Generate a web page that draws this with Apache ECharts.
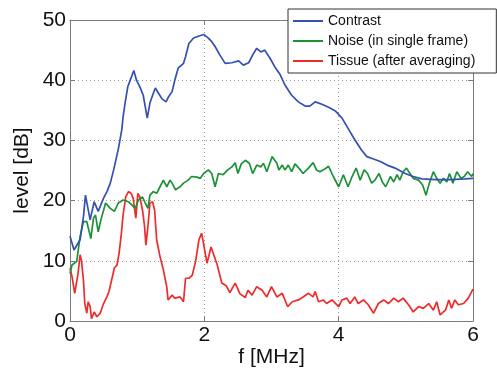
<!DOCTYPE html>
<html>
<head>
<meta charset="utf-8">
<script src="https://cdn.jsdelivr.net/npm/echarts@6/dist/echarts.min.js"></script>
<style>
  html, body { margin: 0; padding: 0; background: #fff; }
  #chart { width: 497px; height: 370px; }
</style>
</head>
<body>
<div id="chart"></div>
<script>
// frequency axis ticks [MHz] and level ticks [dB]
const freqTicks = [0, 2, 4, 6];
const levelTicks = [0, 10, 20, 30, 40, 50];

// Contrast curve: [f MHz, level dB]
const contrast = [
  [0.00, 14.1], [0.06, 11.8], [0.15, 13.5], [0.20, 17.3], [0.23, 20.9], [0.30, 16.8],
  [0.36, 19.8], [0.42, 18.2], [0.50, 20.4], [0.55, 21.5], [0.60, 22.9], [0.65, 25.1],
  [0.72, 28.6], [0.77, 31.7], [0.79, 33.9], [0.82, 36.2], [0.86, 38.9], [0.89, 39.8],
  [0.95, 41.6], [0.99, 40.0], [1.04, 38.9], [1.09, 37.5], [1.12, 35.6], [1.15, 33.7],
  [1.19, 36.2], [1.23, 37.5], [1.27, 38.7], [1.32, 37.8], [1.37, 36.9], [1.43, 36.4],
  [1.47, 37.3], [1.52, 38.1], [1.56, 40.0], [1.61, 42.0], [1.69, 42.8], [1.72, 43.9],
  [1.77, 46.1], [1.84, 47.0], [1.91, 47.3], [1.99, 47.6], [2.06, 47.0], [2.11, 46.4],
  [2.16, 45.6], [2.23, 44.2], [2.31, 42.8], [2.41, 42.9], [2.51, 43.2], [2.58, 42.5],
  [2.66, 42.9], [2.72, 44.2], [2.78, 45.3], [2.84, 44.7], [2.90, 45.0], [2.98, 43.6],
  [3.05, 42.2], [3.13, 40.9], [3.20, 39.2], [3.30, 37.5], [3.40, 36.4], [3.50, 35.7],
  [3.57, 35.7], [3.65, 36.4], [3.75, 36.0], [3.85, 35.5], [3.95, 34.9], [4.05, 33.7],
  [4.14, 32.0], [4.24, 30.1], [4.34, 28.4], [4.42, 27.3], [4.52, 26.9], [4.62, 26.5],
  [4.72, 25.9], [4.84, 25.4], [4.99, 24.5], [5.11, 24.0], [5.24, 23.6], [5.44, 23.5],
  [5.68, 23.5], [5.88, 23.6], [6.00, 23.7]
];

// Noise (in single frame)
const noise = [
  [0.00, 7.9], [0.03, 9.3], [0.10, 9.9], [0.15, 14.0], [0.20, 16.5], [0.25, 16.5],
  [0.28, 15.1], [0.31, 13.7], [0.35, 17.1], [0.38, 17.6], [0.42, 14.8], [0.46, 16.8],
  [0.50, 18.4], [0.53, 19.6], [0.60, 18.7], [0.66, 18.2], [0.72, 19.6], [0.79, 20.1],
  [0.87, 19.8], [0.92, 19.3], [0.97, 18.7], [1.02, 20.1], [1.08, 20.6], [1.12, 19.6],
  [1.16, 18.7], [1.19, 20.9], [1.24, 21.5], [1.29, 21.2], [1.34, 22.3], [1.39, 23.4],
  [1.44, 22.3], [1.49, 23.4], [1.52, 22.9], [1.57, 21.8], [1.64, 22.3], [1.69, 22.9],
  [1.76, 23.4], [1.81, 24.0], [1.89, 23.9], [1.94, 23.7], [1.99, 24.5], [2.06, 25.1],
  [2.11, 24.5], [2.16, 22.3], [2.21, 24.5], [2.28, 24.3], [2.35, 25.1], [2.41, 25.6],
  [2.46, 26.3], [2.50, 24.5], [2.55, 26.1], [2.61, 26.7], [2.67, 26.2], [2.72, 24.5],
  [2.78, 25.9], [2.84, 25.6], [2.88, 26.2], [2.93, 24.8], [3.01, 27.3], [3.08, 26.2],
  [3.11, 25.1], [3.16, 25.9], [3.20, 25.1], [3.25, 25.9], [3.30, 24.8], [3.35, 26.1],
  [3.43, 25.1], [3.47, 24.5], [3.55, 25.4], [3.62, 26.3], [3.67, 25.1], [3.72, 24.8],
  [3.80, 25.3], [3.85, 25.7], [3.92, 24.0], [4.00, 22.3], [4.07, 24.3], [4.14, 22.3],
  [4.20, 24.0], [4.26, 25.4], [4.32, 23.4], [4.38, 25.1], [4.43, 24.5], [4.49, 22.9],
  [4.54, 23.4], [4.60, 24.5], [4.65, 23.1], [4.70, 22.3], [4.77, 24.0], [4.82, 23.1],
  [4.87, 24.3], [4.91, 23.4], [4.96, 24.8], [5.01, 25.4], [5.06, 24.5], [5.11, 23.7],
  [5.19, 23.4], [5.25, 22.6], [5.30, 20.9], [5.35, 22.9], [5.41, 24.8], [5.46, 23.7],
  [5.51, 22.9], [5.56, 23.7], [5.61, 23.1], [5.65, 24.5], [5.70, 22.9], [5.76, 24.8],
  [5.82, 23.7], [5.87, 24.0], [5.92, 24.8], [5.98, 24.0], [6.00, 24.5]
];

// Tissue (after averaging)
const tissue = [
  [0.00, 8.8], [0.03, 7.4], [0.07, 4.6], [0.12, 7.9], [0.15, 11.0], [0.17, 10.1],
  [0.20, 6.8], [0.22, 2.9], [0.25, 1.3], [0.27, 3.2], [0.30, 2.4], [0.32, 0.4],
  [0.36, 1.5], [0.40, 0.7], [0.45, 1.3], [0.50, 2.9], [0.55, 4.0], [0.58, 4.9],
  [0.62, 6.8], [0.66, 8.8], [0.70, 9.3], [0.73, 11.2], [0.76, 14.0], [0.79, 17.6],
  [0.83, 20.6], [0.87, 21.5], [0.91, 21.2], [0.94, 20.4], [0.98, 17.1], [1.01, 21.2],
  [1.04, 20.6], [1.08, 18.4], [1.11, 15.7], [1.13, 12.6], [1.16, 15.7], [1.19, 19.6],
  [1.23, 19.8], [1.26, 18.4], [1.29, 13.5], [1.34, 10.7], [1.39, 8.5], [1.44, 5.7],
  [1.46, 3.5], [1.52, 4.3], [1.56, 3.8], [1.64, 4.0], [1.69, 3.2], [1.72, 7.1],
  [1.77, 7.1], [1.82, 7.6], [1.87, 9.9], [1.92, 13.5], [1.96, 14.6], [2.04, 9.6],
  [2.10, 12.3], [2.19, 9.4], [2.26, 6.3], [2.33, 5.8], [2.38, 4.7], [2.46, 6.3],
  [2.53, 4.5], [2.61, 3.9], [2.65, 5.1], [2.71, 4.3], [2.78, 5.7], [2.86, 5.1],
  [2.93, 4.0], [3.00, 5.7], [3.08, 4.0], [3.16, 4.6], [3.24, 2.4], [3.31, 3.2],
  [3.40, 3.5], [3.47, 4.0], [3.55, 4.6], [3.62, 4.0], [3.65, 4.9], [3.70, 3.2],
  [3.77, 3.5], [3.82, 2.9], [3.90, 3.5], [3.92, 3.8], [4.00, 2.4], [4.05, 3.5],
  [4.12, 3.8], [4.17, 2.9], [4.24, 4.0], [4.29, 2.9], [4.37, 3.5], [4.44, 2.7],
  [4.52, 1.3], [4.59, 2.9], [4.67, 3.5], [4.74, 2.9], [4.82, 3.8], [4.89, 3.2],
  [4.96, 3.8], [5.04, 2.7], [5.11, 1.5], [5.19, 2.4], [5.26, 2.1], [5.34, 2.9],
  [5.41, 1.8], [5.46, 3.2], [5.51, 1.0], [5.59, 1.8], [5.64, 3.5], [5.68, 2.1],
  [5.73, 3.5], [5.78, 2.7], [5.86, 2.9], [5.93, 3.8], [6.00, 5.3]
];

const seriesNames = ['Contrast', 'Noise (in single frame)', 'Tissue (after averaging)'];
const seriesColors = ['#3450b2', '#1d9137', '#ee2b2b'];

const font = '"Liberation Sans", Arial, Helvetica, sans-serif';
const axisColor = '#7a7a7a';
const gridLine = { show: true, lineStyle: { color: '#9a9a9a', type: [1, 3], width: 1 } };

const chart = echarts.init(document.getElementById('chart'), null, { renderer: 'canvas' });

// mirror axes (top/right) only draw the box edge + inward ticks
const mirror = (extra) => Object.assign({
  type: 'value',
  axisLine: { show: true, onZero: false, lineStyle: { color: axisColor, width: 1 } },
  axisTick: { show: true, inside: true, length: 5, lineStyle: { color: axisColor } },
  axisLabel: { show: false },
  splitLine: { show: false }
}, extra);

const option = {
  animation: false,
  backgroundColor: '#fff',
  grid: { left: 70, right: 24, top: 20, bottom: 49, containLabel: false, outerBoundsMode: 'none' },
  legend: {
    orient: 'vertical',
    left: 288,
    top: 9,
    data: seriesNames,
    icon: 'rect',
    itemWidth: 30,
    itemHeight: 2,
    itemGap: 6,
    padding: [5, 21, 5, 5],
    backgroundColor: '#fff',
    borderColor: '#333',
    borderWidth: 1,
    borderRadius: 0,
    textStyle: { fontFamily: font, fontSize: 14, color: '#111' }
  },
  xAxis: [
    {
      type: 'value',
      min: freqTicks[0],
      max: freqTicks[freqTicks.length - 1],
      interval: 2,
      name: 'f [MHz]',
      nameLocation: 'middle',
      nameGap: 26,
      nameMoveOverlap: false,
      nameTextStyle: { fontFamily: font, fontSize: 21, color: '#111' },
      axisLine: { show: true, onZero: false, lineStyle: { color: axisColor, width: 1 } },
      axisTick: { show: true, inside: true, length: 5, lineStyle: { color: axisColor } },
      axisLabel: { fontFamily: font, fontSize: 21, color: '#111', margin: 4 },
      splitLine: gridLine
    },
    mirror({ position: 'top', min: 0, max: 6, interval: 2 })
  ],
  yAxis: [
    {
      type: 'value',
      min: levelTicks[0],
      max: levelTicks[levelTicks.length - 1],
      interval: 10,
      name: 'level [dB]',
      nameLocation: 'middle',
      nameGap: 37,
      nameMoveOverlap: false,
      nameTextStyle: { fontFamily: font, fontSize: 21, color: '#111' },
      axisLine: { show: true, onZero: false, lineStyle: { color: axisColor, width: 1 } },
      axisTick: { show: true, inside: true, length: 5, lineStyle: { color: axisColor } },
      axisLabel: { fontFamily: font, fontSize: 21, color: '#111', margin: 4 },
      splitLine: gridLine
    },
    mirror({ position: 'right', min: 0, max: 50, interval: 10 })
  ],
  series: [contrast, noise, tissue].map((d, i) => ({
    name: seriesNames[i],
    type: 'line',
    data: d,
    showSymbol: false,
    smooth: false,
    itemStyle: { color: seriesColors[i] },
    lineStyle: { color: seriesColors[i], width: 1.7 },
    z: 3 - i
  }))
};

option && chart.setOption(option);
</script>
</body>
</html>
